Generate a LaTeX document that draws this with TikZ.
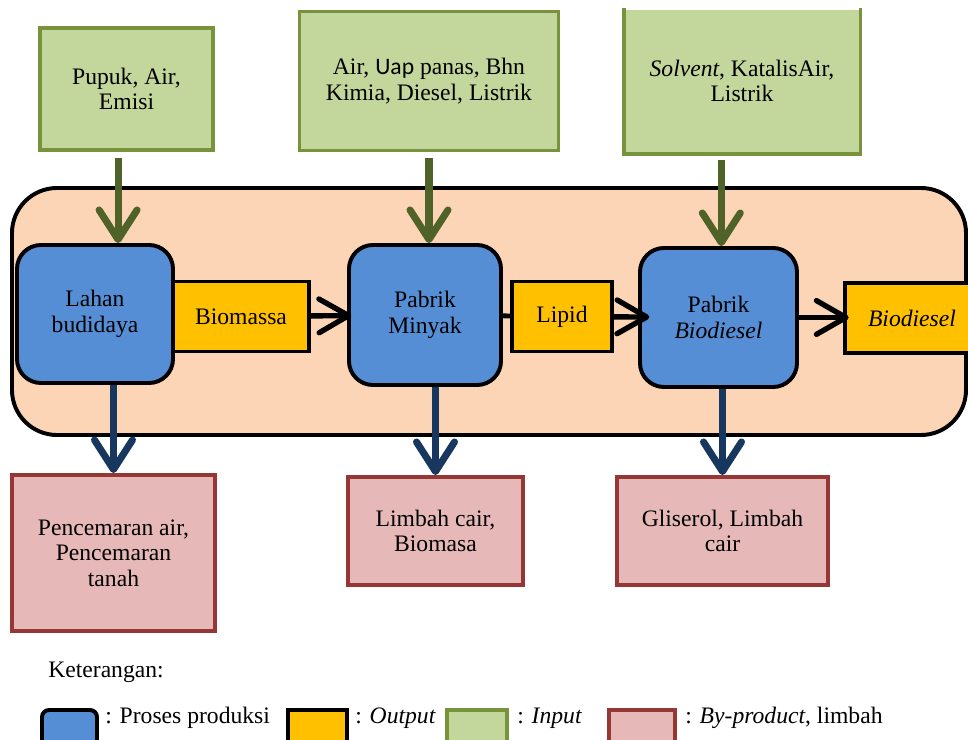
\documentclass[tikz,border=0pt]{standalone}
\usepackage{fontspec}
\setmainfont{Liberation Serif}
\newfontfamily\sansuap{Carlito}
\usetikzlibrary{arrows.meta,positioning}

\definecolor{biruproses}{HTML}{558ED5}
\definecolor{oranyeoutput}{HTML}{FFC000}
\definecolor{hijauisi}{HTML}{C3D69B}
\definecolor{hijaugaris}{HTML}{77933C}
\definecolor{hijaupanah}{HTML}{4F6228}
\definecolor{merahisi}{HTML}{E6B9B8}
\definecolor{merahgaris}{HTML}{953735}
\definecolor{birupanah}{HTML}{17375E}
\definecolor{persik}{HTML}{FBD5B5}

\begin{document}
\begin{tikzpicture}[
      x=0.025cm, y=-0.025cm,
      every node/.style={font=\fontsize{16.8}{18}\selectfont, align=center, inner sep=0pt},
      ukuran/.style 2 args={minimum width=#1*0.025cm, minimum height=#2*0.025cm},
      proses/.style={draw=black, line width=2.8pt, fill=biruproses, rounded corners=17pt},
      keluaran/.style={draw=black, line width=2.8pt, fill=oranyeoutput},
      masukan/.style={draw=hijaugaris, line width=2.8pt, fill=hijauisi},
      limbah/.style={draw=merahgaris, line width=2.8pt, fill=merahisi},
      latar/.style={draw=black, line width=2.8pt, fill=persik, rounded corners=32pt},
      ujung/.tip={Straight Barb[length=21pt, width=24pt, round]},
      ujungbesar/.tip={Straight Barb[length=21pt, width=27pt, round]},
      garis/.style={line width=3.4pt, black},
      alur/.style={-ujung, line width=3.8pt, black},
      panahmasuk/.style={-ujungbesar, line width=5pt, hijaupanah},
      panahlimbah/.style={-ujungbesar, line width=5pt, birupanah}
  ]
      \useasboundingbox (0,0) rectangle (968,740);
      \clip (0,0) rectangle (968,740);

      % Latar proses
      \node[latar, ukuran={954}{247}] (latar) at (489,311.5) {};

      % Masukan
      \node[masukan, ukuran={173}{122}] (in1) at (126.5,89) {Pupuk, Air,\\Emisi};
      \node[masukan, ukuran={259}{139}] (in2) at (429,81) {Air, {\sansuap Uap} panas, Bhn\\Kimia, Diesel, Listrik};
      \node[masukan, draw=none, ukuran={233}{142}] (in3) at (742,81) {\textit{Solvent}, KatalisAir,\\Listrik};
      \draw[hijaugaris, line width=2.8pt] (in3.north west) -- (in3.south west) -- (in3.south east) -- (in3.north east);

      % Proses produksi
      \node[proses, ukuran={156}{138}] (p1) at (95,314) {Lahan\\budidaya};
      \node[proses, ukuran={152}{140}] (p2) at (425,315) {Pabrik\\Minyak};
      \node[proses, ukuran={157}{139}] (p3) at (718.5,317.5) {Pabrik\\\textit{Biodiesel}};

      % Output
      \node[keluaran, ukuran={136}{70}] (o1) at (241,316.5) {Biomassa};
      \node[keluaran, ukuran={100}{70}] (o2) at (562,316.5) {Lipid};
      \node[keluaran, ukuran={134}{70}] (o3) at (912,318) {\textit{Biodiesel}};

      % By-product
      \node[limbah, ukuran={203}{156}] (b1) at (113.5,553) {Pencemaran air,\\Pencemaran\\tanah};
      \node[limbah, ukuran={175}{108}] (b2) at (435.5,531) {Limbah cair,\\Biomasa};
      \node[limbah, ukuran={211}{108}] (b3) at (722.5,531) {Gliserol, Limbah\\cair};

      % Panah alur
      \draw[alur, shorten >=-3pt] (o1) -- (p2);
      \draw[garis] (p2) -- (o2);
      \draw[alur, shorten >=-8pt] (o2) -- (p3);
      \draw[alur, shorten >=-4pt] (p3.east) -- (o3.west |- p3.east);

      % Panah masukan dan limbah
      \draw[panahmasuk] ([xshift=-6pt,yshift=-4pt]in1.south) -- ([xshift=-6pt]in1.south |- p1.north);
      \draw[panahmasuk] ([yshift=-4pt]in2.south) -- (in2.south |- p2.north);
      \draw[panahmasuk] ([xshift=2pt,yshift=-4pt]in3.south -| p3.north) -- ([xshift=2pt]p3.north);
      \draw[panahlimbah] (p1.south -| b1.north) -- (b1.north);
      \draw[panahlimbah] (p2.south -| b2.north) -- (b2.north);
      \draw[panahlimbah] (p3.south -| b3.north) -- (b3.north);

      % Keterangan
      \node[anchor=west] (ket) at (48,672) {Keterangan:};
      \node[proses, rounded corners=5pt, ukuran={55}{42}] (lgproses) at (69.5,731) {};
      \node[keluaran, ukuran={59}{42}] (lgoutput) at (317.5,731) {};
      \node[masukan, ukuran={60}{42}] (lginput) at (477,731) {};
      \node[limbah, ukuran={66}{42}] (lglimbah) at (642,731) {};
      \node[anchor=west] (tproses) at (105,718) {: Proses produksi};
      \node[anchor=west] (toutput) at (355,718) {: \textit{Output}};
      \node[anchor=west] (tinput) at (517,718) {: \textit{Input}};
      \node[anchor=west] (tlimbah) at (685,718) {: \textit{By-product}, limbah};
  \end{tikzpicture}
\end{document}
